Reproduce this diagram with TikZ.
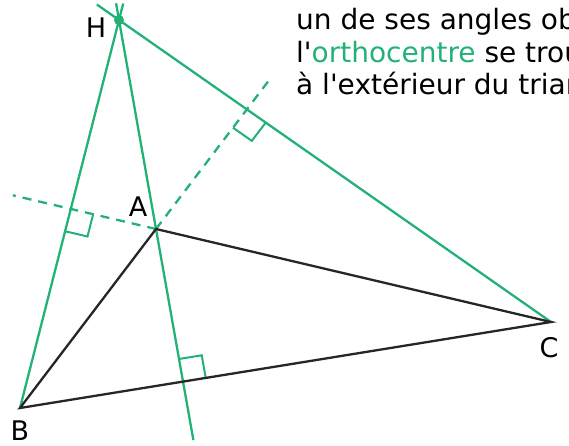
\documentclass[tikz,border=0pt]{standalone}
\usepackage{fontspec}
\setmainfont{DejaVu Sans}[Ligatures=TeXOff]
\usepackage{tikz}
\usetikzlibrary{calc}
\definecolor{orthoGreen}{RGB}{35,178,118}
\tikzset{
  triSide/.style={draw=black!85, line width=2.3pt, line cap=round},
  altLine/.style={draw=orthoGreen, line width=2.3pt},
  altExt/.style={draw=orthoGreen, line width=2.3pt, dash pattern=on 9pt off 7pt},
  rightMark/.style={draw=orthoGreen, line width=2pt},
  hDot/.style={circle, fill=orthoGreen, inner sep=0pt, minimum size=10pt},
  %% Labels and note text
  vtxLabel/.style={font=\fontsize{27}{30}\selectfont, inner sep=0pt},
  noteText/.style={font=\fontsize{28}{32}\selectfont, anchor=base west, inner sep=0pt},
}

\begin{document}
\begin{tikzpicture}[x=1pt, y=-1pt]
\useasboundingbox (0,0) rectangle (569,446);
\clip (0,0) rectangle (569,446);

%% Vertices and orthocentre
\coordinate (B) at (20,408);
\coordinate (A) at (156,229);
\coordinate (C) at (551,322);
\coordinate (H) at (119,20);

%% Feet of the altitudes
\coordinate (fA) at (intersection of H--A and B--C);
\coordinate (fB) at (intersection of H--B and C--A);
\coordinate (fC) at (intersection of H--C and B--A);

%% Sides extended beyond A
\draw[altExt] (A) -- ($(A)!-147pt!(C)$);
\draw[altExt] (A) -- ($(A)!-186pt!(B)$);

%% Altitudes
\draw[altLine] ($(H)!-17pt!(A)$) -- ($(H)!2.01!(A)$);
\draw[altLine] ($(H)!-17pt!(B)$) -- (B);
\draw[altLine] ($(H)!-27pt!(C)$) -- (C);

%% Right-angle marks
\draw[rightMark] ($(fA)!23pt!(A)$) -- ($($(fA)!23pt!(A)$)+($(fA)!23pt!(C)$)-(fA)$) -- ($(fA)!23pt!(C)$);
\draw[rightMark] ($(fB)!23pt!(A)$) -- ($($(fB)!23pt!(A)$)+($(fB)!23pt!(B)$)-(fB)$) -- ($(fB)!23pt!(B)$);
\draw[rightMark] ($(fC)!23pt!(A)$) -- ($($(fC)!23pt!(A)$)+($(fC)!23pt!(C)$)-(fC)$) -- ($(fC)!23pt!(C)$);

%% Triangle
\draw[triSide] (A) -- (B) -- (C) -- cycle;

%% Orthocentre dot
\node[hDot] (Hdot) at (H) {};

%% Vertex labels
\node[vtxLabel] (labH) at (96,28)  {H};
\node[vtxLabel] (labA) at (138,207) {A};
\node[vtxLabel] (labB) at (20,431)  {B};
\node[vtxLabel] (labC) at (549,348) {C};

%% Note text
\node[noteText] (lineOne)   at (296,29.5) {un de ses angles obtus,};
\node[noteText] (lineTwo)   at (296,62.5) {l'\textcolor{orthoGreen}{orthocentre} se trouve};
\node[noteText] (lineThree) at (296,94.5) {à l'extérieur du triangle.};
\end{tikzpicture}
\end{document}
